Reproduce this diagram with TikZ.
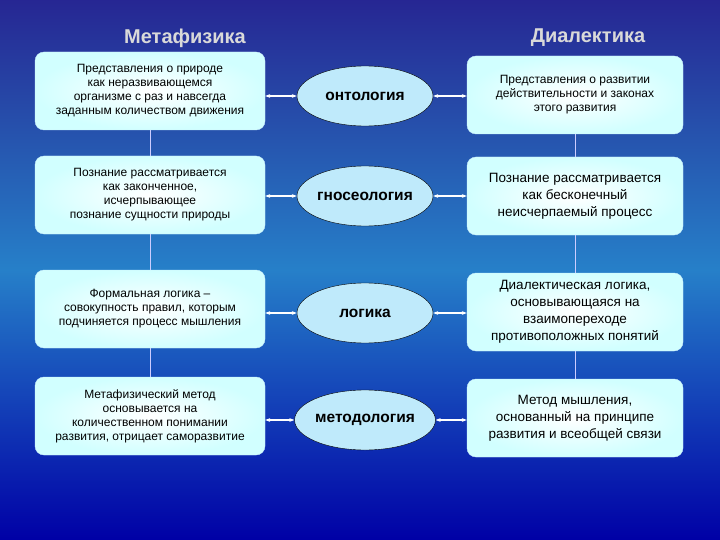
\documentclass[tikz,border=0pt]{standalone}
\usepackage{fontspec}
\setmainfont{Liberation Sans}
\usetikzlibrary{shapes.geometric,arrows.meta}
\begin{document}
\begin{tikzpicture}[x=1pt,y=-1pt,
 box/.style={draw=white!80!cyan,rounded corners=9pt,inner color=white,outer color=cyan!18,align=center,font=\fontsize{12}{14}\selectfont,minimum height=78,inner sep=1pt},
 ell/.style={ellipse,draw=black,fill=cyan!25,minimum width=136,minimum height=60,inner sep=0pt,font=\bfseries\fontsize{15.5}{18}\selectfont},
 conn/.style={white,line width=1.5pt,{Stealth[length=5pt]}-{Stealth[length=5pt]}},
 vl/.style={white!80!blue,line width=0.6pt},
 ttl/.style={font=\bfseries\fontsize{20}{22}\selectfont,text=gray!30}]
\shade[top color=blue!50!black!85!white,bottom color=blue!65!black,middle color=blue!45!cyan!75!black!85!white] (0,0) rectangle (720,540);
\useasboundingbox (0,0) rectangle (720,540);
\node[ttl] (t1) at (185,38) {Метафизика};
\node[ttl] (t2) at (588,38) {Диалектика};
\node[box,minimum width=230] (l1) at (150,91) {Представления о природе\\как неразвивающемся\\организме с раз и навсегда\\заданным количеством движения};
\node[box,minimum width=230] (l2) at (150,195) {Познание рассматривается\\как законченное,\\исчерпывающее\\познание сущности природы};
\node[box,minimum width=230] (l3) at (150,309) {Формальная логика –\\совокупность правил, которым\\подчиняется процесс мышления};
\node[box,minimum width=230] (l4) at (150,416) {Метафизический метод\\основывается на\\количественном понимании\\развития, отрицает саморазвитие};
\node[box,minimum width=216] (r1) at (575,95) {Представления о развитии\\действительности и законах\\этого развития};
\node[box,minimum width=216,font=\fontsize{13.5}{17}\selectfont] (r2) at (575,196) {Познание рассматривается\\как бесконечный\\неисчерпаемый процесс};
\node[box,minimum width=216,font=\fontsize{13.5}{17}\selectfont] (r3) at (575,312) {Диалектическая логика,\\основывающаяся на\\взаимопереходе\\противоположных понятий};
\node[box,minimum width=216,font=\fontsize{13.5}{17}\selectfont] (r4) at (575,418) {Метод мышления,\\основанный на принципе\\развития и всеобщей связи};
\node[ell] (e1) at (365,96) {онтология};
\node[ell] (e2) at (365,196) {гносеология};
\node[ell] (e3) at (365,313) {логика};
\node[ell] (e4) at (365,420) {методология};
\foreach \i in {1,2,3,4}{
 \draw[conn] (l\i.east |- e\i.west) -- (e\i.west);
 \draw[conn] (e\i.east) -- (r\i.west |- e\i.east);}
\foreach \a/\b in {1/2,2/3,3/4}{
 \draw[vl] (l\a.south) -- (l\b.north);
 \draw[vl] (r\a.south) -- (r\b.north);}
\end{tikzpicture}
\end{document}
